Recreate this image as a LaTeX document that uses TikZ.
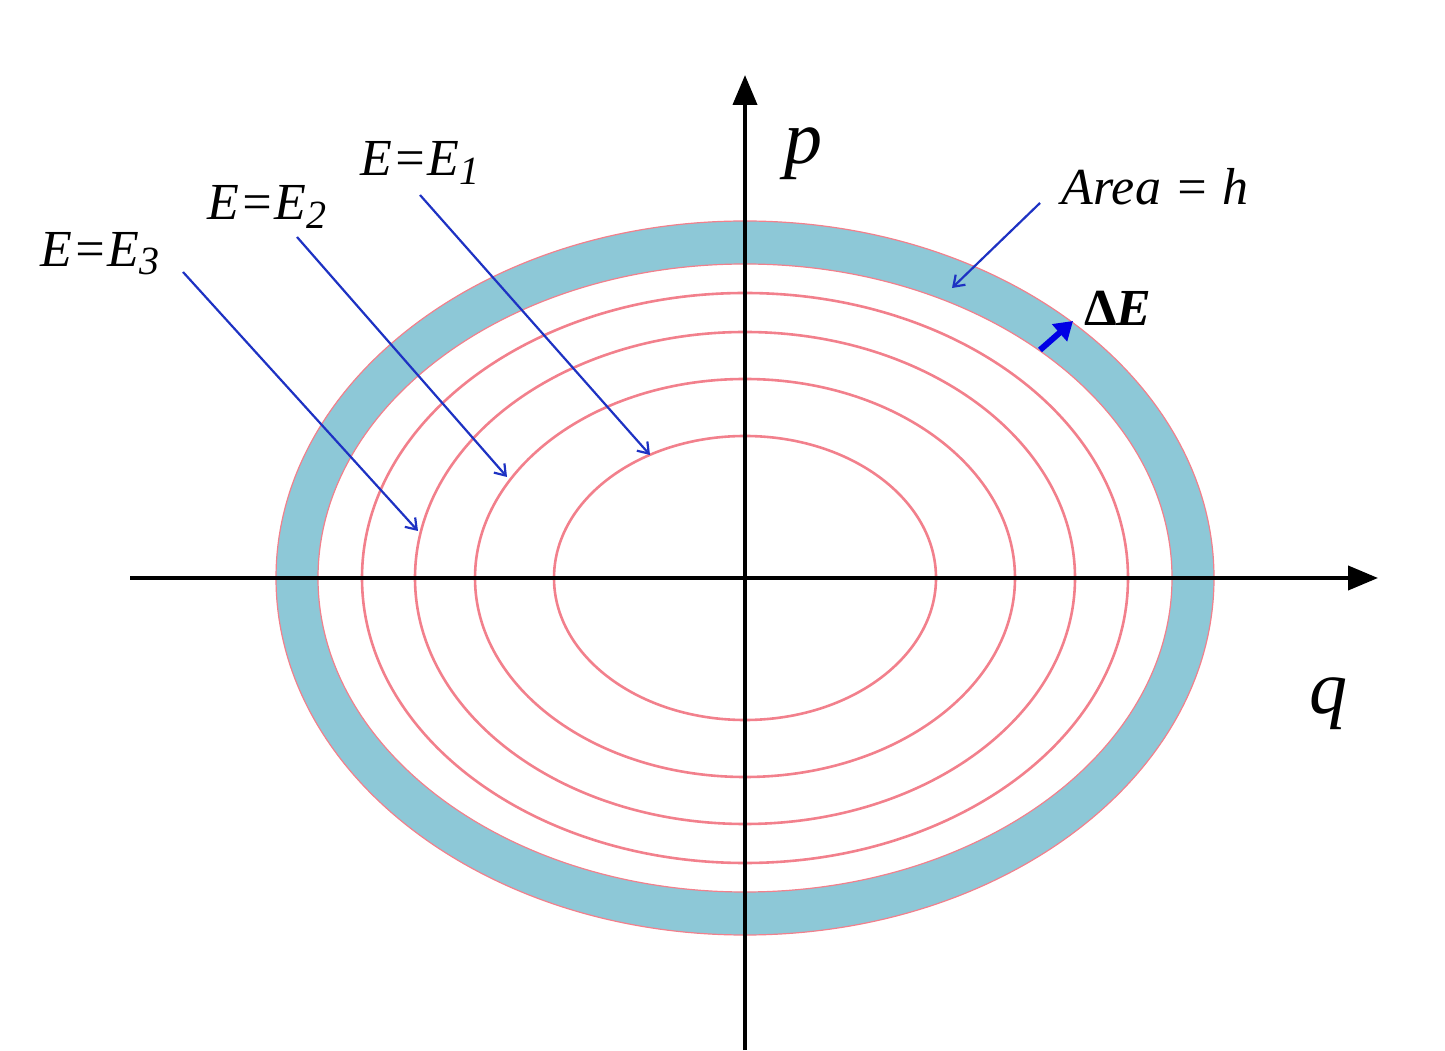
\documentclass[tikz,border=0pt]{standalone}
\usepackage{fontspec}
\setmainfont{Liberation Serif}
\usetikzlibrary{arrows.meta}
\definecolor{bandblue}{RGB}{141,200,215}
\definecolor{ringred}{RGB}{242,128,140}
\definecolor{arrowblue}{RGB}{30,50,195}
\newcommand{\lowsub}[1]{\raisebox{-0.35ex}{\fontsize{20}{24}\selectfont #1}}

\begin{document}
\begin{tikzpicture}[x=0.5pt,y=0.5pt,
	axis/.style={line width=2pt,-{Triangle[length=15pt,width=12pt]}},
	level/.style={draw=ringred,line width=1.3pt},
	earrow/.style={draw=arrowblue,line width=1.1pt,-{Straight Barb[length=5pt,width=7pt]}},
	lab/.style={font=\fontsize{26}{30}\selectfont\itshape}]
	
	\useasboundingbox (0,0) rectangle (1445,1050);
	\coordinate (O) at (745,472);
	
	%能量带
	\filldraw[fill=bandblue,draw=ringred,line width=0.6pt,even odd rule] (O) ellipse [x radius=469,y radius=357]
	(O) ellipse [x radius=427,y radius=314];
	
	%等能线
	\foreach \a/\b in {191/142,270/199,330/246,383/285}  {
		\draw[level] (O) ellipse [x radius=\a,y radius=\b];
	}
	
	%坐标轴
	\coordinate (qtail) at (130,472);
	\coordinate (qtip) at (1378,472);
	\coordinate (ptail) at (745,0);
	\coordinate (ptip) at (745,975);
	\draw[axis] (qtail) -- (qtip);
	\draw[axis] (ptail) -- (ptip);
	\node[font=\fontsize{38}{40}\selectfont\itshape] (plab) at (803,896) {p};
	\node[font=\fontsize{38}{40}\selectfont\itshape] (qlab) at (1328,346) {q};
	
	%标签
	\node[lab] (e1) at (420,887) {E=E\lowsub{1}};
	\node[lab] (e2) at (267,843) {E=E\lowsub{2}};
	\node[lab] (e3) at (100,796) {E=E\lowsub{3}};
	\node[lab] (area) at (1155,863) {Area = h};
	\node[font=\fontsize{26}{30}\selectfont\bfseries] (de) at (1118,742) {Δ\textit{E}};
	
	\coordinate (e1s) at (420,855);
	\coordinate (e1t) at (650,595);
	\coordinate (e2s) at (297,813);
	\coordinate (e2t) at (507,573);
	\coordinate (e3s) at (183,778);
	\coordinate (e3t) at (418,519);
	\coordinate (as) at (1040,847);
	\coordinate (at) at (952,762);
	\coordinate (ds) at (1040,700);
	\coordinate (dt) at (1073,729);
	
	\draw[earrow] (e1s) -- (e1t);
	\draw[earrow] (e2s) -- (e2t);
	\draw[earrow] (e3s) -- (e3t);
	\draw[earrow] (as) -- (at);
	\draw[draw=blue!90!black,line width=3pt,-{Triangle[length=9pt,width=11pt]}] (ds) -- (dt);
	
\end{tikzpicture}
\end{document}
